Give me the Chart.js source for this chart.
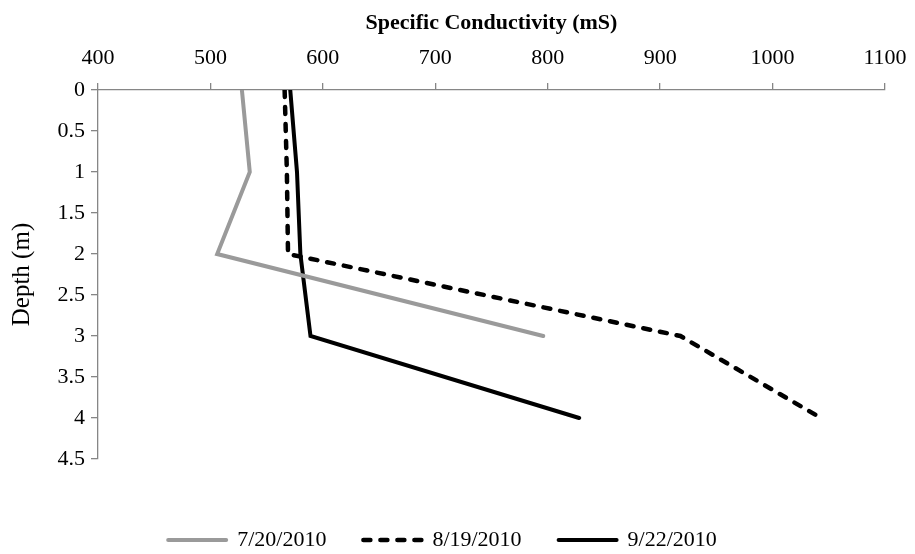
<!DOCTYPE html>
<html>
<head>
<meta charset="utf-8">
<script src="https://cdn.jsdelivr.net/npm/chart.js@4/dist/chart.umd.min.js"></script>
<style>
  html, body { margin: 0; padding: 0; background: #fff; }
  #wrap { width: 915px; height: 554px; }
</style>
</head>
<body>
<div id="wrap"><canvas id="grafico" width="915" height="554"></canvas></div>
<script>
// profundidades (m)
const profundidades = [0, 1, 2, 3, 4];

// conductividad especifica (mS) por fecha
const fechas = ['7/20/2010', '8/19/2010', '9/22/2010'];
const cond0720 = [528, 535, 506, 796];
const cond0819 = [566, 568, 569, 918, 1043];
const cond0922 = [571, 577, 580, 589, 828];

const ticksX = [400, 500, 600, 700, 800, 900, 1000, 1100];
const ticksY = [0, 0.5, 1, 1.5, 2, 2.5, 3, 3.5, 4, 4.5];

const fuente = '"Liberation Serif", "Times New Roman", serif';
const gris = '#868686';

function puntos(valores) {
  return valores.map((v, i) => ({ x: v, y: profundidades[i] }));
}

const ctx = document.getElementById('grafico').getContext('2d');

new Chart(ctx, {
  type: 'scatter',
  data: {
    datasets: [
      {
        label: fechas[0],
        data: puntos(cond0720),
        borderColor: '#9a9a9a',
        backgroundColor: '#9a9a9a',
        borderWidth: 4,
        showLine: true,
        pointRadius: 0,
        borderCapStyle: 'round'
      },
      {
        label: fechas[1],
        data: puntos(cond0819),
        borderColor: '#000',
        backgroundColor: '#000',
        borderWidth: 4.5,
        borderDash: [7, 10],
        borderCapStyle: 'round',
        showLine: true,
        pointRadius: 0
      },
      {
        label: fechas[2],
        data: puntos(cond0922),
        borderColor: '#000',
        backgroundColor: '#000',
        borderWidth: 4,
        showLine: true,
        pointRadius: 0,
        borderCapStyle: 'round'
      }
    ]
  },
  options: {
    responsive: false,
    animation: false,
    layout: { padding: { left: 0, right: 30, top: 0, bottom: -7 } },
    plugins: {
      tooltip: { enabled: false },
      legend: {
        position: 'bottom',
        labels: {
          usePointStyle: true,
          pointStyle: 'line',
          pointStyleWidth: 58,
          color: '#000',
          padding: 37,
          font: { family: fuente, size: 22 },
          // el estilo de punto no trae el guion, se lo pasamos desde el dataset
          generateLabels: chart => {
            const base = Chart.defaults.plugins.legend.labels.generateLabels(chart);
            return base.map((it, i) => {
              const ds = chart.data.datasets[i];
              it.lineDash = ds.borderDash || [];
              it.lineCap = 'round';
              it.lineWidth = ds.borderWidth;
              it.strokeStyle = ds.borderColor;
              return it;
            });
          }
        }
      }
    },
    scales: {
      x: {
        type: 'linear',
        position: 'top',
        min: 400,
        max: 1100,
        afterBuildTicks: s => { s.ticks = ticksX.map(v => ({ value: v })); },
        afterFit: s => { s.height = 90; s.paddingLeft = 0; s.paddingRight = 0; },
        ticks: { color: '#000', font: { family: fuente, size: 22 }, padding: 12, callback: v => String(v) },
        grid: { drawOnChartArea: false, color: gris, tickLength: 7, lineWidth: 1.3 },
        border: { color: gris, width: 1.3 },
        title: {
          display: true,
          text: 'Specific Conductivity (mS)',
          color: '#000',
          font: { family: fuente, size: 22, weight: 'bold' },
          padding: { top: 10 }
        }
      },
      x2: {
        type: 'linear',
        position: 'bottom',
        display: true,
        afterFit: s => { s.height = 33; s.paddingLeft = 0; s.paddingRight = 0; },
        ticks: { display: false },
        grid: { display: false },
        border: { display: false }
      },
      y: {
        type: 'linear',
        reverse: true,
        min: 0,
        max: 4.5,
        afterBuildTicks: s => { s.ticks = ticksY.map(v => ({ value: v })); },
        afterFit: s => { s.width = 98; },
        ticks: { color: '#000', font: { family: fuente, size: 22 }, padding: 6, callback: v => String(v) },
        grid: { drawOnChartArea: false, color: gris, tickLength: 7, lineWidth: 1.3 },
        border: { color: gris, width: 1.3 },
        title: {
          display: true,
          text: 'Depth (m)',
          color: '#000',
          font: { family: fuente, size: 25 },
          padding: { top: 7 }
        }
      }
    }
  }
});
</script>
</body>
</html>
